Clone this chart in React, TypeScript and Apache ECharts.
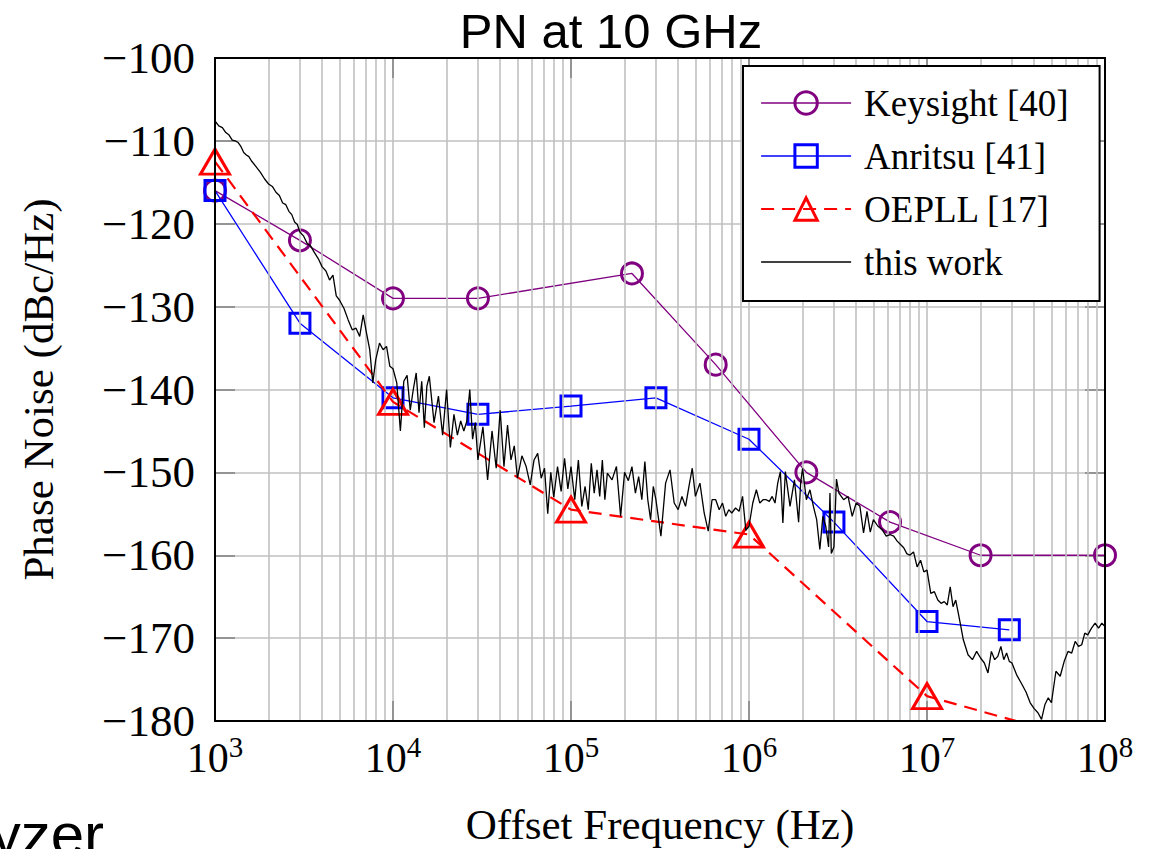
import React, { useEffect, useRef } from "react";
import * as echarts from "echarts";

// ---------- data (offset frequency in Hz, phase noise in dBc/Hz) ----------
const keysight: [number, number][] = [
  [1e3, -116], [3e3, -122], [1e4, -129], [3e4, -129], [2.2e5, -126],
  [6.5e5, -137], [2.1e6, -150], [6.2e6, -156], [2e7, -160], [1e8, -160],
];

const anritsu: [number, number][] = [
  [1e3, -116], [3e3, -132], [1e4, -141], [3e4, -143], [1e5, -142],
  [3e5, -141], [1e6, -146], [3e6, -156], [1e7, -168], [2.9e7, -169],
];

const oepll: [number, number][] = [
  [1e3, -112.5], [1e4, -141.5], [1e5, -154.5], [1e6, -157.5], [1e7, -177], [1e8, -183],
];

const thisWork: [number, number][] = [
  [1000, -107.6], [1050, -108.2], [1100, -108.4], [1150, -109.0], [1200, -109.3], [1250, -109.9],
  [1300, -110.0], [1350, -110.2], [1400, -110.7], [1450, -111.4], [1500, -111.7], [1550, -111.9],
  [1600, -112.4], [1700, -113.1], [1800, -113.8], [1900, -114.6], [2000, -115.2], [2100, -115.5],
  [2200, -116.2], [2300, -116.6], [2400, -117.5], [2500, -117.7], [2600, -118.5], [2700, -118.9],
  [2800, -119.8], [2900, -120.1], [3000, -121.0], [3150, -121.5], [3300, -122.4], [3450, -122.7],
  [3600, -123.4], [3800, -124.2], [4000, -125.2], [4200, -125.7], [4400, -126.8], [4600, -126.2],
  [4800, -128.7], [5000, -129.2], [5300, -130.2], [5600, -131.6], [5900, -132.8], [6200, -132.6],
  [6500, -133.6], [6800, -131.0], [7100, -133.2], [7400, -135.2], [7700, -139.2], [8000, -136.4],
  [8400, -134.4], [8800, -135.2], [9200, -134.8], [9600, -137.2],
  [10000, -137.5], [10500, -139.2], [11000, -145.0], [11500, -139.0], [12000, -138.3], [12500, -142.5],
  [13000, -140.0], [13500, -138.0], [14000, -142.8], [14500, -139.0], [15000, -144.6], [15500, -139.6],
  [16000, -138.4], [17000, -144.0], [18000, -140.8], [19000, -145.5], [20000, -140.0], [21000, -147.0],
  [22000, -143.0], [23000, -145.5], [24000, -143.8], [25000, -145.0], [26000, -143.8], [27000, -140.0],
  [28000, -146.0], [29000, -144.0], [30000, -148.5], [32000, -144.5], [34000, -150.9], [36000, -145.0],
  [38000, -149.5], [40000, -142.5], [42000, -149.3], [44000, -144.3], [46000, -148.5], [48000, -146.8],
  [50000, -150.7], [53000, -148.0], [56000, -149.3], [59000, -151.5], [62000, -148.5], [65000, -147.7],
  [68000, -150.7], [71000, -149.5], [74000, -155.0], [77000, -150.0], [80000, -153.0], [84000, -149.3],
  [88000, -152.3], [92000, -148.3], [96000, -152.0],
  [100000, -149.3], [105000, -153.3], [110000, -148.5], [115000, -154.1], [120000, -151.7], [125000, -154.5],
  [130000, -148.9], [135000, -152.5], [140000, -149.7], [145000, -152.9], [150000, -148.5], [155000, -153.3],
  [160000, -150.1], [170000, -150.9], [180000, -149.3], [190000, -155.3], [200000, -150.0], [210000, -151.0],
  [220000, -149.3], [230000, -152.5], [240000, -150.5], [250000, -153.3], [260000, -148.7], [270000, -153.3],
  [280000, -155.7], [290000, -151.7], [300000, -153.3], [320000, -157.7], [340000, -151.3], [360000, -149.7],
  [380000, -153.7], [400000, -154.5], [420000, -152.9], [440000, -154.1], [460000, -151.7], [480000, -149.5],
  [500000, -152.9], [530000, -151.3], [560000, -154.9], [590000, -157.1], [620000, -153.3], [650000, -153.3],
  [680000, -154.5], [710000, -153.7], [740000, -155.3], [770000, -154.5], [800000, -154.9], [840000, -154.3],
  [880000, -154.7], [920000, -152.9], [960000, -157.0],
  [1000000, -156.5], [1050000, -153.7], [1100000, -152.1], [1150000, -153.7], [1200000, -153.3], [1250000, -153.3],
  [1300000, -153.5], [1350000, -152.9], [1400000, -153.7], [1450000, -151.3], [1500000, -149.9], [1550000, -156.1],
  [1600000, -149.9], [1700000, -154.1], [1800000, -150.9], [1900000, -156.0], [1950000, -151.3], [2000000, -149.5],
  [2100000, -153.3], [2200000, -152.1], [2300000, -154.1], [2400000, -155.7], [2500000, -159.3], [2600000, -155.3],
  [2700000, -156.5], [2800000, -159.0], [2850000, -152.5], [2900000, -159.8], [3000000, -159.0], [3100000, -150.8],
  [3200000, -152.5], [3400000, -153.3], [3600000, -152.9], [3800000, -155.3], [4000000, -153.7], [4200000, -154.1],
  [4400000, -157.3], [4600000, -154.7], [4800000, -157.2], [5000000, -155.7], [5300000, -156.5], [5600000, -156.9],
  [5900000, -157.7], [6200000, -157.5], [6500000, -157.7], [6800000, -158.3], [7100000, -158.7], [7400000, -159.1],
  [7700000, -159.8], [8000000, -160.0], [8400000, -159.6], [8800000, -161.4], [9200000, -160.6], [9600000, -162.0],
  [10000000, -161.8], [10500000, -164.6], [11000000, -164.4], [11500000, -165.4], [12000000, -165.8], [12500000, -165.6],
  [13000000, -166.0], [13500000, -163.8], [14000000, -166.2], [14500000, -165.4], [15000000, -167.0], [15500000, -168.6],
  [16000000, -170.2], [17000000, -172.0], [18000000, -172.6], [19000000, -171.6], [20000000, -172.4], [21000000, -173.0],
  [22000000, -174.2], [23000000, -171.6], [24000000, -172.6], [25000000, -172.2], [26000000, -171.0], [27000000, -172.6],
  [28000000, -171.8], [29000000, -172.8], [30000000, -173.0], [32000000, -174.5], [34000000, -175.5], [36000000, -176.5],
  [38000000, -177.8], [40000000, -178.5], [42000000, -179.0], [44000000, -179.8], [46000000, -178.0], [48000000, -177.2],
  [50000000, -177.8], [53000000, -174.0], [56000000, -174.6], [59000000, -172.8], [62000000, -171.6], [65000000, -171.8],
  [68000000, -170.4], [71000000, -171.0], [74000000, -170.8], [77000000, -169.4], [80000000, -169.6], [84000000, -168.8],
  [88000000, -168.2], [92000000, -168.8], [96000000, -168.2], [100000000, -168.6],
];

// minor (log) grid positions
const minorGrid: number[] = [
  2e3, 3e3, 4e3, 5e3, 6e3, 7e3, 8e3, 9e3,
  2e4, 3e4, 4e4, 5e4, 6e4, 7e4, 8e4, 9e4,
  2e5, 3e5, 4e5, 5e5, 6e5, 7e5, 8e5, 9e5,
  2e6, 3e6, 4e6, 5e6, 6e6, 7e6, 8e6, 9e6,
  2e7, 3e7, 4e7, 5e7, 6e7, 7e7, 8e7, 9e7,
];

const seriesNames = ["Keysight [40]", "Anritsu [41]", "OEPLL [17]", "this work"];

const PURPLE = "#800080";
const BLUE = "#0000ff";
const RED = "#ff0000";
const GRID = "#c0c0c0";
const SERIF = "'Liberation Serif', 'Times New Roman', serif";
const SANS = "'Liberation Sans', Arial, sans-serif";

export default function App() {
  const ref = useRef<HTMLDivElement>(null);

  useEffect(() => {
    if (!ref.current) return;
    const chart = echarts.init(ref.current, undefined, { renderer: "svg" });

    const option: any = {
      animation: false,
      backgroundColor: "#ffffff",
      grid: {
        left: 215, right: 53, top: 58, bottom: 128,
        show: true, borderColor: "#000", borderWidth: 2, backgroundColor: "transparent",
        containLabel: false, outerBoundsMode: "none",
        z: 10,
      },
      graphic: [
        {
          type: "text", x: 611, y: 31, silent: true,
          style: { text: "PN at 10 GHz", font: `49px ${SANS}`, fill: "#000", align: "center", verticalAlign: "middle", textAlign: "center", textVerticalAlign: "middle" },
        },
        {
          type: "text", x: 104, y: 834, silent: true,
          style: { text: "yzer", font: `60px ${SANS}`, fill: "#000", align: "right", verticalAlign: "middle", textAlign: "right", textVerticalAlign: "middle" },
        },
      ],
      legend: {
        data: [
          { name: seriesNames[0], itemStyle: { color: "transparent", borderColor: PURPLE, borderWidth: 3 }, lineStyle: { color: PURPLE, width: 1.3 } },
          { name: seriesNames[1], itemStyle: { color: "transparent", borderColor: BLUE, borderWidth: 3 }, lineStyle: { color: BLUE, width: 1.3 } },
          { name: seriesNames[2], itemStyle: { color: "transparent", borderColor: RED, borderWidth: 3 }, lineStyle: { color: RED, width: 2.2, type: [13, 8] } },
          { name: seriesNames[3], icon: "path://M0,0H90V1.4H0Z", itemStyle: { color: "#000" } },
        ],
        orient: "vertical",
        left: 743, top: 66,
        padding: [17, 31, 19, 17],
        itemWidth: 90, itemHeight: 28, itemGap: 13,
        backgroundColor: "#fff", borderColor: "#000", borderWidth: 2, borderRadius: 0,
        textStyle: { fontFamily: SERIF, fontSize: 37, color: "#000", lineHeight: 40, padding: [0, 0, 0, 8] },
        selectedMode: false,
        z: 20,
      },
      xAxis: [
        {
          type: "log", logBase: 10, min: 1e3, max: 1e8,
          name: "Offset Frequency (Hz)", nameLocation: "middle", nameGap: 82,
          nameTextStyle: { fontFamily: SERIF, fontSize: 43, color: "#000" },
          axisLine: { show: false },
          axisTick: { show: true, inside: true, length: 20, lineStyle: { color: "#808080", width: 1.5 } },
          axisLabel: {
            margin: 11,
            formatter: (v: number) => `{b|10}{s|${Math.round(Math.log10(v))}}`,
            rich: {
              b: { fontFamily: SERIF, fontSize: 42, color: "#000", lineHeight: 52 },
              s: { fontFamily: SERIF, fontSize: 29, color: "#000", verticalAlign: "top" },
            },
          },
          splitLine: { show: true, lineStyle: { color: GRID, width: 1.6 } },
        },
        {
          type: "log", logBase: 10, min: 1e3, max: 1e8, position: "top",
          axisLine: { show: false },
          axisTick: { show: true, inside: true, length: 20, lineStyle: { color: "#808080", width: 1.5 } },
          axisLabel: { show: false },
          splitLine: { show: false },
        },
      ],
      yAxis: [
        {
          type: "value", min: -180, max: -100, interval: 10,
          name: "Phase Noise (dBc/Hz)", nameLocation: "middle", nameGap: 155,
          nameTextStyle: { fontFamily: SERIF, fontSize: 43, color: "#000" },
          axisLine: { show: false },
          axisTick: { show: true, inside: true, length: 20, lineStyle: { color: "#808080", width: 1.5 } },
          axisLabel: {
            margin: 20, fontFamily: SERIF, fontSize: 45, color: "#000",
            formatter: (v: number) => (v < 0 ? "\u2212" + Math.abs(v) : String(v)),
          },
          splitLine: { show: true, lineStyle: { color: GRID, width: 1.6 } },
        },
        {
          type: "value", min: -180, max: -100, interval: 10, position: "right",
          axisLine: { show: false },
          axisTick: { show: true, inside: true, length: 20, lineStyle: { color: "#808080", width: 1.5 } },
          axisLabel: { show: false },
          splitLine: { show: false },
        },
      ],
      series: [
        {
          type: "line", name: "minor-grid", data: [], z: 1, silent: true,
          markLine: {
            silent: true, symbol: ["none", "none"], animation: false,
            label: { show: false },
            lineStyle: { color: GRID, width: 1.6, type: "solid" },
            emphasis: { disabled: true },
            data: minorGrid.map((f) => ({ xAxis: f })),
          },
        },
        {
          type: "line", name: seriesNames[0], data: keysight, z: 3,
          symbol: "circle", symbolSize: 21,
          itemStyle: { color: "transparent", borderColor: PURPLE, borderWidth: 3 },
          lineStyle: { color: PURPLE, width: 1.3 },
          emphasis: { disabled: true },
        },
        {
          type: "line", name: seriesNames[1], data: anritsu, z: 4,
          symbol: "rect", symbolSize: 20,
          itemStyle: { color: "transparent", borderColor: BLUE, borderWidth: 3 },
          lineStyle: { color: BLUE, width: 1.3 },
          emphasis: { disabled: true },
        },
        {
          type: "line", name: seriesNames[2], data: oepll, z: 5,
          symbol: "triangle", symbolSize: [29, 25],
          itemStyle: { color: "transparent", borderColor: RED, borderWidth: 3 },
          lineStyle: { color: RED, width: 2.2, type: [13, 8] },
          emphasis: { disabled: true },
        },
        {
          type: "line", name: seriesNames[3], data: thisWork, z: 6,
          symbol: "none", showSymbol: false,
          itemStyle: { color: "#000" },
          lineStyle: { color: "#000", width: 1.3 },
          emphasis: { disabled: true },
        },
      ],
    };

    chart.setOption(option);
    return () => chart.dispose();
  }, []);

  return (
    <div
      ref={ref}
      style={{ position: "fixed", left: 0, top: 0, width: 1158, height: 849, background: "#fff" }}
    />
  );
}
